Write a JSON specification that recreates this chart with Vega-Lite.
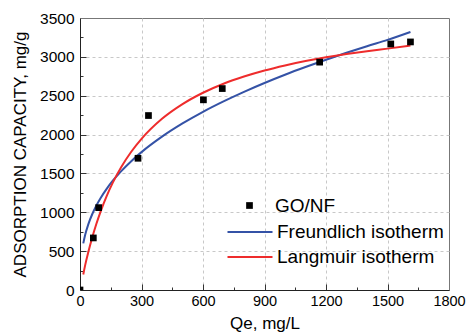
{
  "$schema": "https://vega.github.io/schema/vega-lite/v6.json",
  "width": 369,
  "height": 272,
  "autosize": {"type": "none"},
  "padding": {"left": 80, "top": 18, "right": 19, "bottom": 45},
  "config": {
    "view": {"stroke": "#777", "strokeWidth": 1},
    "font": "Liberation Sans",
    "legend": {"padding": 0}
  },
  "resolve": {"axis": {"x": "independent", "y": "independent"}},
  "datasets": {
    "pts": [
      {"x": 0, "y": 0, "series": "GO/NF"},
      {"x": 65, "y": 670, "series": "GO/NF"},
      {"x": 91, "y": 1060, "series": "GO/NF"},
      {"x": 283, "y": 1695, "series": "GO/NF"},
      {"x": 334, "y": 2245, "series": "GO/NF"},
      {"x": 602, "y": 2447, "series": "GO/NF"},
      {"x": 694, "y": 2592, "series": "GO/NF"},
      {"x": 1169, "y": 2932, "series": "GO/NF"},
      {"x": 1516, "y": 3166, "series": "GO/NF"},
      {"x": 1612, "y": 3192, "series": "GO/NF"}
    ],
    "curves": [
      {"x": 16, "y": 600, "series": "Freundlich isotherm"},
      {"x": 25, "y": 707, "series": "Freundlich isotherm"},
      {"x": 40, "y": 842, "series": "Freundlich isotherm"},
      {"x": 60, "y": 978, "series": "Freundlich isotherm"},
      {"x": 80, "y": 1088, "series": "Freundlich isotherm"},
      {"x": 100, "y": 1182, "series": "Freundlich isotherm"},
      {"x": 130, "y": 1302, "series": "Freundlich isotherm"},
      {"x": 160, "y": 1406, "series": "Freundlich isotherm"},
      {"x": 200, "y": 1527, "series": "Freundlich isotherm"},
      {"x": 250, "y": 1658, "series": "Freundlich isotherm"},
      {"x": 300, "y": 1774, "series": "Freundlich isotherm"},
      {"x": 400, "y": 1973, "series": "Freundlich isotherm"},
      {"x": 500, "y": 2143, "series": "Freundlich isotherm"},
      {"x": 600, "y": 2293, "series": "Freundlich isotherm"},
      {"x": 700, "y": 2427, "series": "Freundlich isotherm"},
      {"x": 800, "y": 2550, "series": "Freundlich isotherm"},
      {"x": 900, "y": 2664, "series": "Freundlich isotherm"},
      {"x": 1000, "y": 2770, "series": "Freundlich isotherm"},
      {"x": 1100, "y": 2869, "series": "Freundlich isotherm"},
      {"x": 1200, "y": 2963, "series": "Freundlich isotherm"},
      {"x": 1300, "y": 3052, "series": "Freundlich isotherm"},
      {"x": 1400, "y": 3137, "series": "Freundlich isotherm"},
      {"x": 1500, "y": 3218, "series": "Freundlich isotherm"},
      {"x": 1612, "y": 3320, "series": "Freundlich isotherm"},
      {"x": 16, "y": 200, "series": "Langmuir isotherm"},
      {"x": 25, "y": 317, "series": "Langmuir isotherm"},
      {"x": 40, "y": 482, "series": "Langmuir isotherm"},
      {"x": 60, "y": 678, "series": "Langmuir isotherm"},
      {"x": 80, "y": 852, "series": "Langmuir isotherm"},
      {"x": 100, "y": 1006, "series": "Langmuir isotherm"},
      {"x": 130, "y": 1208, "series": "Langmuir isotherm"},
      {"x": 160, "y": 1381, "series": "Langmuir isotherm"},
      {"x": 200, "y": 1577, "series": "Langmuir isotherm"},
      {"x": 250, "y": 1779, "series": "Langmuir isotherm"},
      {"x": 300, "y": 1945, "series": "Langmuir isotherm"},
      {"x": 400, "y": 2203, "series": "Langmuir isotherm"},
      {"x": 500, "y": 2392, "series": "Langmuir isotherm"},
      {"x": 600, "y": 2538, "series": "Langmuir isotherm"},
      {"x": 700, "y": 2654, "series": "Langmuir isotherm"},
      {"x": 800, "y": 2747, "series": "Langmuir isotherm"},
      {"x": 900, "y": 2825, "series": "Langmuir isotherm"},
      {"x": 1000, "y": 2890, "series": "Langmuir isotherm"},
      {"x": 1100, "y": 2946, "series": "Langmuir isotherm"},
      {"x": 1200, "y": 2994, "series": "Langmuir isotherm"},
      {"x": 1300, "y": 3036, "series": "Langmuir isotherm"},
      {"x": 1400, "y": 3073, "series": "Langmuir isotherm"},
      {"x": 1500, "y": 3106, "series": "Langmuir isotherm"},
      {"x": 1612, "y": 3145, "series": "Langmuir isotherm"}
    ]
  },
  "layer": [
    {
      "data": {"name": "pts"},
      "mark": {"type": "point", "opacity": 0},
      "encoding": {
        "x": {
          "field": "x", "type": "quantitative",
          "scale": {"domain": [0, 1800], "nice": false},
          "axis": {
            "orient": "bottom", "title": null, "labels": false, "domain": false, "grid": false,
            "values": [150, 450, 750, 1050, 1350, 1650],
            "ticks": true, "tickSize": -3, "tickColor": "#333"
          }
        },
        "y": {
          "field": "y", "type": "quantitative",
          "scale": {"domain": [0, 3500], "nice": false},
          "axis": {
            "orient": "left", "title": null, "labels": false, "domain": false, "grid": false,
            "values": [250, 750, 1250, 1750, 2250, 2750, 3250],
            "ticks": true, "tickSize": -3, "tickColor": "#333"
          }
        }
      }
    },
    {
      "data": {"name": "pts"},
      "mark": {"type": "point", "opacity": 0},
      "encoding": {
        "x": {
          "field": "x", "type": "quantitative",
          "axis": {
            "orient": "bottom", "title": null, "labels": false, "domain": false,
            "values": [300, 600, 900, 1200, 1500],
            "ticks": true, "tickSize": -6, "tickColor": "#333",
            "grid": true, "gridDash": [3, 3], "gridColor": "#c8c8c8"
          }
        },
        "y": {
          "field": "y", "type": "quantitative",
          "axis": {
            "orient": "left", "title": null, "labels": false, "domain": false,
            "values": [500, 1000, 1500, 2000, 2500, 3000],
            "ticks": true, "tickSize": -6, "tickColor": "#333",
            "grid": true, "gridDash": [3, 3], "gridColor": "#c8c8c8"
          }
        }
      }
    },
    {
      "data": {"name": "curves"},
      "mark": {"type": "line", "strokeWidth": 2, "interpolate": "monotone"},
      "encoding": {
        "x": {
          "field": "x", "type": "quantitative",
          "axis": {
            "orient": "bottom",
            "title": "Qe, mg/L",
            "values": [0, 300, 600, 900, 1200, 1500, 1800],
            "format": "d",
            "labelOverlap": false,
            "labelFlush": false,
            "ticks": false,
            "grid": false,
            "domainColor": "#222",
            "labelFontSize": 14.5,
            "labelColor": "black",
            "labelPadding": 4,
            "titleFontSize": 17,
            "titleFontWeight": "normal",
            "titleColor": "black",
            "titlePadding": 8
          }
        },
        "y": {
          "field": "y", "type": "quantitative",
          "axis": {
            "orient": "left",
            "title": "ADSORPTION CAPACITY, mg/g",
            "values": [0, 500, 1000, 1500, 2000, 2500, 3000, 3500],
            "format": "d",
            "labelOverlap": false,
            "labelFlush": false,
            "ticks": false,
            "grid": false,
            "domainColor": "#222",
            "labelFontSize": 15.5,
            "labelColor": "black",
            "labelPadding": 6,
            "titleFontSize": 17,
            "titleFontWeight": "normal",
            "titleColor": "black",
            "titlePadding": 10
          }
        },
        "color": {
          "field": "series", "type": "nominal",
          "scale": {"domain": ["Freundlich isotherm", "Langmuir isotherm"], "range": ["#3452a6", "#ee2c2c"]},
          "legend": {
            "title": null,
            "orient": "none",
            "legendX": 160,
            "legendY": 204,
            "symbolType": "M-2.5,0H2.5",
            "symbolSize": 324,
            "symbolStrokeWidth": 2,
            "labelFontSize": 19,
            "labelColor": "black",
            "labelOffset": 17,
            "labelLimit": 400,
            "rowPadding": 5
          }
        }
      }
    },
    {
      "data": {"name": "pts"},
      "mark": {"type": "point", "shape": "square", "filled": true, "color": "black", "size": 45, "opacity": 1, "clip": true},
      "encoding": {
        "x": {"field": "x", "type": "quantitative", "axis": null},
        "y": {"field": "y", "type": "quantitative", "axis": null},
        "shape": {
          "field": "series", "type": "nominal",
          "scale": {"domain": ["GO/NF"], "range": ["square"]},
          "legend": {
            "title": null,
            "orient": "none",
            "legendX": 160,
            "legendY": 178,
            "symbolSize": 45,
            "symbolFillColor": "black",
            "symbolStrokeColor": "black",
            "symbolStrokeWidth": 0,
            "symbolOpacity": 1,
            "labelFontSize": 19,
            "labelColor": "black",
            "labelOffset": 16,
            "labelLimit": 400
          }
        }
      }
    }
  ]
}
